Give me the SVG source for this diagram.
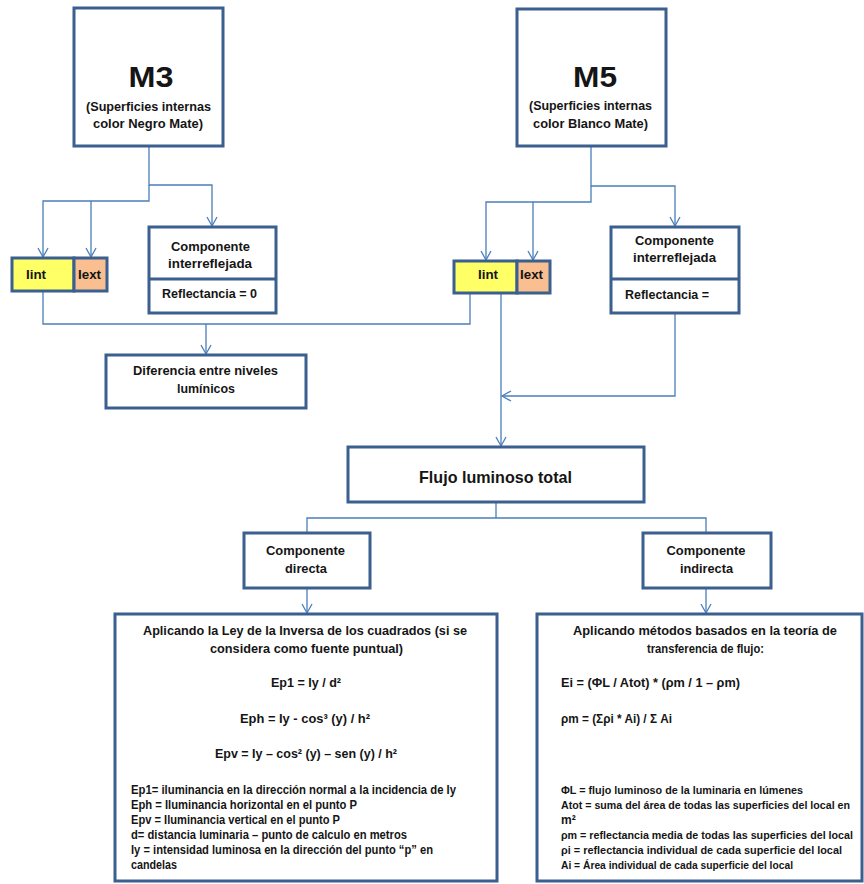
<svg xmlns="http://www.w3.org/2000/svg" width="864" height="884" viewBox="0 0 864 884">
  <defs>
    <style>
      .box { fill: #ffffff; stroke: #3b5f8e; stroke-width: 3; }
      .yel { fill: #ffff66; stroke: #3b5f8e; stroke-width: 3; }
      .org { fill: #f9bf90; stroke: #3b5f8e; stroke-width: 3; }
      .div { stroke: #3b5f8e; stroke-width: 3; fill: none; }
      .con { fill: none; stroke: #4a7ebb; stroke-width: 1.3; }
      text { font-family: "Liberation Sans", Arial, sans-serif; font-weight: bold; fill: #151515; }
      .c { text-anchor: middle; }
      .big { font-size: 30px; }
      .sub { font-size: 12.5px; }
      .lbl { font-size: 13px; }
      .ttl { font-size: 17px; }
      .hd { font-size: 13px; }
      .eq { font-size: 13px; }
      .df { font-size: 12px; }
      .df2 { font-size: 10.5px; }
    </style>
    <marker id="arr" markerUnits="userSpaceOnUse" markerWidth="14" markerHeight="14" viewBox="-10 -7 12 14" refX="0" refY="0" orient="auto">
      <path d="M-9,-5 L0,0 L-9,5" fill="none" stroke="#4a7ebb" stroke-width="1.3"/>
    </marker>
  </defs>

  <!-- connectors -->
  <g id="connectors">
    <path class="con" d="M149,146 V185 H212 V226" marker-end="url(#arr)"/>
    <path class="con" d="M149,185 V201 H43 V257" marker-end="url(#arr)"/>
    <path class="con" d="M91,201 V257" marker-end="url(#arr)"/>
    <path class="con" d="M591,146 V186 H675 V226" marker-end="url(#arr)"/>
    <path class="con" d="M591,186 V202 H486 V260" marker-end="url(#arr)"/>
    <path class="con" d="M533,202 V260" marker-end="url(#arr)"/>
    <path class="con" d="M43,292 V324 H470 V294"/>
    <path class="con" d="M206,324 V354" marker-end="url(#arr)"/>
    <path class="con" d="M501,294 V446" marker-end="url(#arr)"/>
    <path class="con" d="M675,314 V396 H502" marker-end="url(#arr)"/>
    <path class="con" d="M496,503 V518"/>
    <path class="con" d="M307,532 V518 H706 V532"/>
    <path class="con" d="M307,588 V613" marker-end="url(#arr)"/>
    <path class="con" d="M706,588 V613" marker-end="url(#arr)"/>
  </g>

  <!-- M3 -->
  <g id="m3">
    <rect class="box" x="74" y="8" width="149" height="138"/>
    <text class="big c" x="151" y="87" textLength="45" lengthAdjust="spacingAndGlyphs">M3</text>
    <text class="sub c" x="148.5" y="111" textLength="125" lengthAdjust="spacingAndGlyphs">(Superficies internas</text>
    <text class="sub c" x="148" y="128" textLength="110" lengthAdjust="spacingAndGlyphs">color Negro Mate)</text>
  </g>

  <!-- M5 -->
  <g id="m5">
    <rect class="box" x="517" y="9" width="149" height="137"/>
    <text class="big c" x="595" y="87" textLength="44" lengthAdjust="spacingAndGlyphs">M5</text>
    <text class="sub c" x="590.5" y="110" textLength="123" lengthAdjust="spacingAndGlyphs">(Superficies internas</text>
    <text class="sub c" x="590.5" y="128" textLength="115" lengthAdjust="spacingAndGlyphs">color Blanco  Mate)</text>
  </g>

  <!-- M3 Iint / Iext -->
  <g id="m3-iint">
    <rect class="yel" x="12" y="258" width="62" height="33"/>
    <text class="lbl" x="26" y="279" textLength="20" lengthAdjust="spacingAndGlyphs">Iint</text>
  </g>
  <g id="m3-iext">
    <rect class="org" x="74" y="258" width="33" height="33"/>
    <text class="lbl" x="78" y="279" textLength="23" lengthAdjust="spacingAndGlyphs">Iext</text>
  </g>

  <!-- M5 Iint / Iext -->
  <g id="m5-iint">
    <rect class="yel" x="454" y="261" width="63" height="32"/>
    <text class="lbl" x="478" y="279" textLength="20" lengthAdjust="spacingAndGlyphs">Iint</text>
  </g>
  <g id="m5-iext">
    <rect class="org" x="517" y="261" width="33" height="32"/>
    <text class="lbl" x="520" y="279" textLength="23" lengthAdjust="spacingAndGlyphs">Iext</text>
  </g>

  <!-- M3 interreflected component -->
  <g id="m3-interreflejada">
    <rect class="box" x="149" y="227" width="127" height="86"/>
    <line class="div" x1="149" y1="279" x2="276" y2="279"/>
    <text class="lbl c" x="210.5" y="251" textLength="79" lengthAdjust="spacingAndGlyphs">Componente</text>
    <text class="lbl c" x="210" y="268" textLength="84" lengthAdjust="spacingAndGlyphs">interreflejada</text>
    <text class="lbl c" x="209.5" y="298" textLength="95" lengthAdjust="spacingAndGlyphs">Reflectancia  = 0</text>
  </g>

  <!-- M5 interreflected component -->
  <g id="m5-interreflejada">
    <rect class="box" x="611" y="227" width="128" height="86"/>
    <line class="div" x1="611" y1="279" x2="739" y2="279"/>
    <text class="lbl c" x="674.5" y="245" textLength="79" lengthAdjust="spacingAndGlyphs">Componente</text>
    <text class="lbl c" x="674.5" y="262" textLength="83" lengthAdjust="spacingAndGlyphs">interreflejada</text>
    <text class="lbl" x="625" y="299" textLength="84" lengthAdjust="spacingAndGlyphs">Reflectancia  =</text>
  </g>

  <!-- light level difference -->
  <g id="diferencia">
    <rect class="box" x="106" y="355" width="200" height="53"/>
    <text class="lbl c" x="205.5" y="375" textLength="145" lengthAdjust="spacingAndGlyphs">Diferencia entre niveles</text>
    <text class="lbl c" x="206" y="393" textLength="58" lengthAdjust="spacingAndGlyphs">lumínicos</text>
  </g>

  <!-- total luminous flux -->
  <g id="flujo">
    <rect class="box" x="348" y="447" width="296" height="55"/>
    <text class="ttl c" x="495.5" y="483" textLength="153" lengthAdjust="spacingAndGlyphs">Flujo luminoso total</text>
  </g>

  <!-- direct component -->
  <g id="directa">
    <rect class="box" x="244" y="533" width="126" height="55"/>
    <text class="lbl c" x="305.5" y="555" textLength="79" lengthAdjust="spacingAndGlyphs">Componente</text>
    <text class="lbl c" x="306" y="573" textLength="42" lengthAdjust="spacingAndGlyphs">directa</text>
  </g>

  <!-- indirect component -->
  <g id="indirecta">
    <rect class="box" x="643" y="533" width="128" height="55"/>
    <text class="lbl c" x="706" y="555" textLength="79" lengthAdjust="spacingAndGlyphs">Componente</text>
    <text class="lbl c" x="706.5" y="573" textLength="53" lengthAdjust="spacingAndGlyphs">indirecta</text>
  </g>

  <!-- inverse square law -->
  <g id="ley-inversa">
    <rect class="box" x="115" y="614" width="382" height="267"/>
    <text class="hd c" x="305" y="635" textLength="324" lengthAdjust="spacingAndGlyphs">Aplicando la Ley  de la Inversa de los cuadrados (si se</text>
    <text class="hd c" x="306.5" y="653" textLength="193" lengthAdjust="spacingAndGlyphs">considera como fuente puntual)</text>
    <text class="eq c" x="306" y="687" textLength="70" lengthAdjust="spacingAndGlyphs">Ep1 = Iy / d²</text>
    <text class="eq c" x="305" y="723" textLength="130" lengthAdjust="spacingAndGlyphs">Eph = Iy - cos³ (y)  / h²</text>
    <text class="eq c" x="306" y="758" textLength="182" lengthAdjust="spacingAndGlyphs">Epv = Iy – cos² (y) – sen (y)  / h²</text>
    <text class="df" x="131" y="794" textLength="325" lengthAdjust="spacingAndGlyphs">Ep1=  iluminancia en la dirección normal a la incidencia de Iy</text>
    <text class="df" x="131" y="809" textLength="226" lengthAdjust="spacingAndGlyphs">Eph = Iluminancia horizontal en el punto P</text>
    <text class="df" x="131" y="824" textLength="209" lengthAdjust="spacingAndGlyphs">Epv = Iluminancia vertical en el punto P</text>
    <text class="df" x="131" y="839" textLength="276" lengthAdjust="spacingAndGlyphs">d= distancia luminaria – punto de calculo en metros</text>
    <text class="df" x="131" y="854" textLength="302" lengthAdjust="spacingAndGlyphs">Iy = intensidad luminosa en la dirección del punto “p” en</text>
    <text class="df" x="131" y="869" textLength="46" lengthAdjust="spacingAndGlyphs">candelas</text>
  </g>

  <!-- flux transfer methods -->
  <g id="transferencia">
    <rect class="box" x="537" y="614" width="325" height="267"/>
    <text class="hd c" x="705" y="635" textLength="264" lengthAdjust="spacingAndGlyphs">Aplicando métodos basados  en la teoría de</text>
    <text class="hd c" x="705.5" y="653" textLength="117" lengthAdjust="spacingAndGlyphs">transferencia de flujo:</text>
    <text class="eq" x="561" y="687" textLength="179" lengthAdjust="spacingAndGlyphs">Ei = (ΦL  / Atot) * (ρm / 1 – ρm)</text>
    <text class="eq" x="561" y="723" textLength="111" lengthAdjust="spacingAndGlyphs">ρm = (Σρi  * Ai) / Σ Ai</text>
    <text class="df2" x="561" y="794" textLength="242" lengthAdjust="spacingAndGlyphs">ΦL = flujo luminoso de la luminaria en lúmenes</text>
    <text class="df2" x="561" y="809" textLength="289" lengthAdjust="spacingAndGlyphs">Atot = suma del área de todas las superficies del local en</text>
    <text class="df" x="561" y="824">m²</text>
    <text class="df2" x="561" y="839" textLength="292" lengthAdjust="spacingAndGlyphs">ρm = reflectancia media de todas las superficies del local</text>
    <text class="df2" x="561" y="854" textLength="281" lengthAdjust="spacingAndGlyphs">ρi = reflectancia individual de cada superficie del local</text>
    <text class="df2" x="561" y="869" textLength="232" lengthAdjust="spacingAndGlyphs">Ai = Área individual de cada superficie del local</text>
  </g>
</svg>
